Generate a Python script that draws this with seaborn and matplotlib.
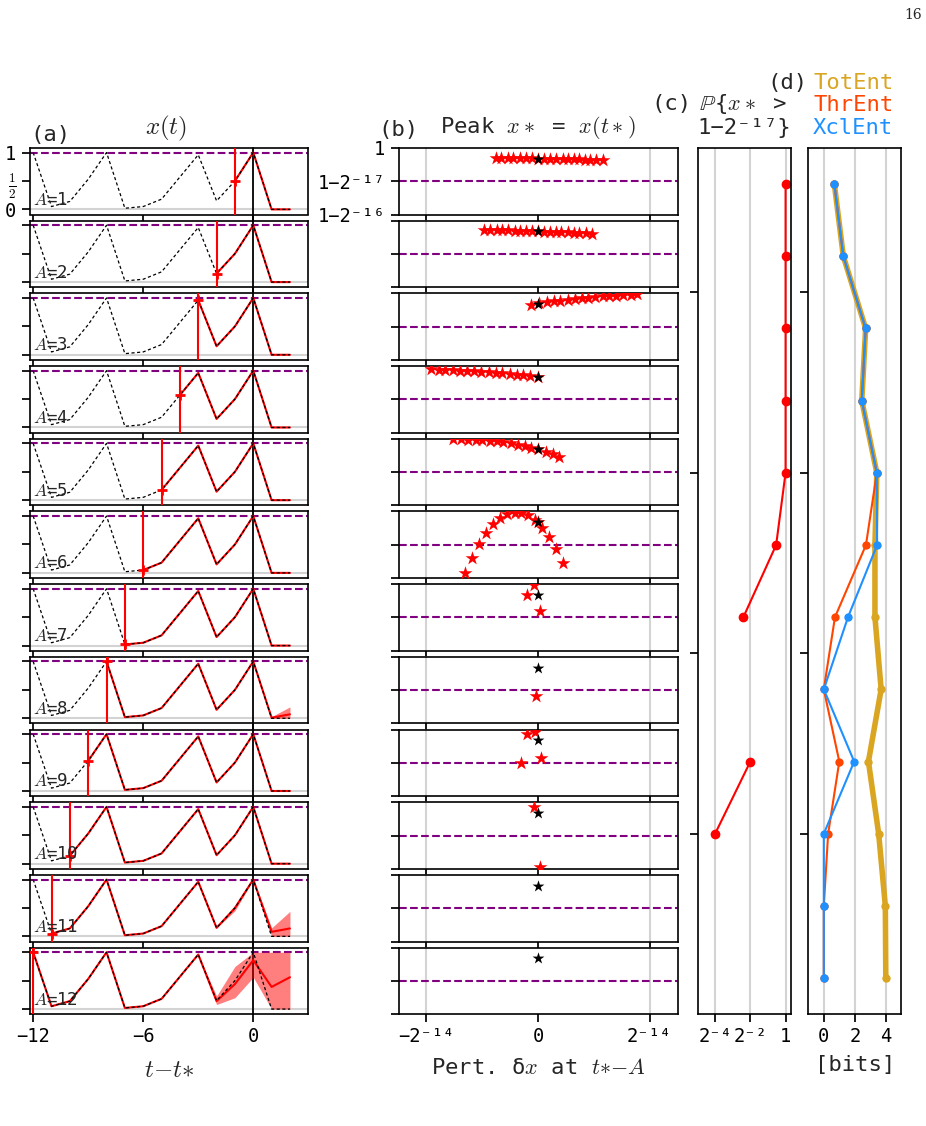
import numpy as np
import seaborn as sns
import matplotlib.pyplot as plt

W, H = 926, 1126

# ---- values ----
lags = np.arange(1, 13)                      # A
t = np.arange(-12, 3)                        # t - t*
x_ref = [1.0, 0.05, 0.14, 0.53, 1.0, 0.02, 0.05, 0.18, 0.57, 0.96, 0.15, 0.5, 1.0, 0.0, 0.0]

# rows where the perturbed ensemble spreads out (t = -3..2)
t_tail = np.arange(-3, 3)
tail_mean = {8: [0.96, 0.15, 0.5, 1.0, 0.01, 0.07],
             11: [0.96, 0.15, 0.5, 1.0, 0.08, 0.14],
             12: [0.96, 0.14, 0.44, 0.86, 0.39, 0.56]}
tail_lo = {8: [0.96, 0.15, 0.5, 1.0, 0.0, 0.0],
           11: [0.96, 0.15, 0.45, 1.0, 0.0, 0.0],
           12: [0.96, 0.08, 0.2, 0.56, 0.0, 0.0]}
tail_hi = {8: [0.96, 0.15, 0.5, 1.0, 0.03, 0.2],
           11: [0.96, 0.15, 0.55, 1.0, 0.15, 0.44],
           12: [0.96, 0.23, 0.75, 1.0, 1.0, 1.0]}

# (b) perturbation dx (units of 2^-14) vs peak deficit 1-x* (units of 2^-17)
peak_ref = 0.32
pert_dx = {
    1: [-0.38, -0.33, -0.27, -0.22, -0.16, -0.11, -0.05, 0.0, 0.05, 0.11, 0.16, 0.22, 0.27, 0.32, 0.37, 0.42, 0.47, 0.52, 0.58],
    2: [-0.48, -0.43, -0.37, -0.32, -0.27, -0.21, -0.16, -0.11, -0.05, 0.0, 0.05, 0.11, 0.16, 0.21, 0.27, 0.32, 0.37, 0.43, 0.48],
    3: [-0.06, 0.01, 0.08, 0.14, 0.20, 0.27, 0.33, 0.39, 0.45, 0.51, 0.58, 0.64, 0.70, 0.76, 0.83, 0.89],
    4: [-0.96, -0.89, -0.83, -0.76, -0.70, -0.64, -0.57, -0.51, -0.44, -0.38, -0.32, -0.25, -0.19, -0.13, -0.07, 0.0],
    5: [-0.76, -0.69, -0.63, -0.56, -0.50, -0.43, -0.37, -0.31, -0.24, -0.18, -0.12, -0.06, 0.0, 0.07, 0.13, 0.19],
    6: [-0.65, -0.59, -0.53, -0.47, -0.40, -0.34, -0.28, -0.21, -0.15, -0.09, -0.03, 0.0, 0.04, 0.10, 0.16, 0.22],
    7: [-0.04, -0.10, 0.02],
    8: [-0.02],
    9: [-0.10, -0.03, 0.03, -0.15],
    10: [-0.04, 0.02],
}
pert_def = {
    1: [0.29, 0.29, 0.30, 0.30, 0.30, 0.31, 0.31, 0.32, 0.32, 0.32, 0.33, 0.33, 0.34, 0.34, 0.34, 0.35, 0.35, 0.36, 0.36],
    2: [0.27, 0.28, 0.28, 0.29, 0.29, 0.30, 0.30, 0.31, 0.31, 0.32, 0.33, 0.33, 0.34, 0.34, 0.35, 0.36, 0.37, 0.38, 0.39],
    3: [0.35, 0.30, 0.27, 0.24, 0.22, 0.19, 0.17, 0.15, 0.13, 0.11, 0.09, 0.08, 0.07, 0.05, 0.04, 0.03],
    4: [0.09, 0.11, 0.12, 0.13, 0.14, 0.15, 0.16, 0.17, 0.19, 0.20, 0.22, 0.24, 0.26, 0.28, 0.30, 0.33],
    5: [0.01, 0.02, 0.03, 0.04, 0.05, 0.06, 0.08, 0.10, 0.14, 0.18, 0.23, 0.28, 0.32, 0.39, 0.46, 0.54],
    6: [1.86, 1.39, 0.99, 0.66, 0.38, 0.20, 0.08, 0.04, 0.04, 0.10, 0.26, 0.33, 0.49, 0.78, 1.13, 1.56],
    7: [0.02, 0.32, 0.81],
    8: [1.18],
    9: [0.12, 0.08, 0.86, 0.99],
    10: [0.14, 1.94],
}

# (c) probability the peak clears the threshold
p_above = [1, 1, 1, 1, 1, 0.69, 0.19, 0, 0.25, 0.0625, 0, 0]

# (d) entropies [bits]
tot_ent = [0.68, 1.26, 2.7, 2.45, 3.42, 3.3, 3.3, 3.7, 2.88, 3.54, 3.97, 4.0]
thr_ent = [0.68, 1.26, 2.7, 2.45, 3.42, 2.72, 0.72, 0.0, 1.0, 0.28, 0.0, 0.0]
xcl_ent = [0.68, 1.26, 2.7, 2.45, 3.42, 3.44, 1.56, 0.0, 1.96, 0.0, 0.0, 0.0]

# ---- style ----
sns.set_theme(context='notebook', style='ticks')
plt.rcParams['font.family'] = ['DejaVu Sans Mono', 'DejaVu Sans']
plt.rcParams['mathtext.fontset'] = 'cm'
plt.rcParams['axes.edgecolor'] = 'black'
plt.rcParams['axes.linewidth'] = 1.2
plt.rcParams['xtick.labelsize'] = 13.5
plt.rcParams['ytick.labelsize'] = 13.5
plt.rcParams['xtick.color'] = 'black'
plt.rcParams['ytick.color'] = 'black'

fig = plt.figure(figsize=(W / 100, H / 100), dpi=100)


def rect(x0, y0, x1, y1):
    return [x0 / W, 1 - y1 / H, (x1 - x0) / W, (y1 - y0) / H]


def ftext(x, y, s, **kw):
    kw.setdefault('va', 'center')
    kw.setdefault('fontsize', 16)
    fig.text(x / W, 1 - y / H, s, **kw)


row_top0, pitch, row_h = 148, 72.7, 66.5
axes_a, axes_b = [], []
for k, A in enumerate(lags):
    top = row_top0 + k * pitch
    last = A == lags[-1]
    ext = 0 if last else -0.1

    # ---- (a) trajectories ----
    ax = fig.add_axes(rect(29.5, top, 308.3, top + row_h))
    axes_a.append(ax)
    ax.axhline(0, color='lightgray', lw=1.5, zorder=0)
    ax.axhline(1, color='purple', ls='--', lw=1.5, zorder=1)
    ax.axvline(0, ymin=ext, ymax=1, color='black', lw=1.3, clip_on=False, zorder=1)

    tr = t[t >= -A]
    mean = np.array(x_ref, float)[t >= -A]
    if A in tail_mean:
        sel = tr >= t_tail[0]
        mean[sel] = tail_mean[A]
        ax.fill_between(t_tail, tail_lo[A], tail_hi[A], color='red', alpha=0.5, lw=0, zorder=2)
    sns.lineplot(x=tr, y=mean, color='red', lw=1.5, estimator=None, ax=ax, zorder=3)
    sns.lineplot(x=t, y=x_ref, color='black', dashes=(2.5, 2), lw=0.9, estimator=None, ax=ax, zorder=4)
    ax.axvline(-A, color='red', lw=1.5, zorder=5)
    ax.plot(-A, x_ref[12 - A], marker='+', color='red', ms=7, mew=2, zorder=6)
    ax.text(0.012, 0.22, f'$A$={A}', transform=ax.transAxes, fontsize=12.5, va='center',
            color='0.15', zorder=7)

    ax.set_xlim(-12.2, 3.0)
    ax.set_ylim(-0.09, 1.08)
    ax.set_xticks([-12, -6, 0])
    ax.set_yticks([0, 0.5, 1])
    if k == 0:
        ax.set_yticklabels(['0', r'$\frac{1}{2}$', '1'])
    else:
        ax.tick_params(labelleft=False)
    if not last:
        ax.tick_params(labelbottom=False)
    ax.set_xlabel('')
    ax.set_ylabel('')

    # ---- (b) peak vs perturbation ----
    bx = fig.add_axes(rect(398.5, top, 677.5, top + row_h))
    axes_b.append(bx)
    for u in (-1, 1):
        bx.axvline(u, ymin=ext, ymax=1, color='lightgray', lw=1.5, clip_on=False, zorder=0)
    bx.axhline(1, color='purple', ls='--', lw=1.5, zorder=1)
    if A in pert_dx:
        sns.scatterplot(x=pert_dx[A], y=pert_def[A], marker='*', s=110, color='red',
                        linewidth=0, ax=bx, zorder=3)
    sns.scatterplot(x=[0], y=[peak_ref], marker='*', s=80, color='black',
                    linewidth=0, ax=bx, zorder=4)
    bx.set_xlim(-1.25, 1.25)
    bx.set_ylim(2, 0)
    bx.set_xticks([-1, 0, 1])
    bx.set_yticks([0, 1, 2])
    if k == 0:
        bx.set_yticklabels(['1', '1−2⁻¹⁷', '1−2⁻¹⁶'])
    else:
        bx.tick_params(labelleft=False)
    if last:
        bx.set_xticklabels(['−2⁻¹⁴', '0', '2⁻¹⁴'])
    else:
        bx.tick_params(labelbottom=False)
    bx.set_xlabel('')
    bx.set_ylabel('')

bottom = row_top0 + 11 * pitch + row_h

# ---- (c) probability ----
cx = fig.add_axes(rect(697.5, row_top0, 790.5, bottom))
p = np.array(p_above, float)
cx.plot(np.where(p > 0, p, np.nan), lags, 'o-', color='red', lw=1.5, ms=6)
cx.set_xscale('log', base=2)
cx.set_xlim(2 ** -5, 2 ** 0.28)
cx.set_xticks([2 ** -4, 2 ** -2, 1])
cx.set_xticklabels(['2⁻⁴', '2⁻²', '1'])
cx.xaxis.set_minor_locator(plt.NullLocator())
cx.grid(axis='x', color='lightgray', lw=1.5)

# ---- (d) entropies ----
dx = fig.add_axes(rect(808.3, row_top0, 901.3, bottom))
for vals, col, lw in [(tot_ent, 'goldenrod', 4), (thr_ent, 'orangered', 1.5), (xcl_ent, 'dodgerblue', 1.5)]:
    sns.lineplot(x=np.array(vals), y=lags, sort=False, estimator=None, color=col, lw=lw,
                 marker='o', markersize=6, markeredgecolor=col, markeredgewidth=0, ax=dx)
dx.set_xlim(-1, 5)
dx.set_xticks([0, 2, 4])
dx.grid(axis='x', color='lightgray', lw=1.5)
dx.set_xlabel('[bits]', fontsize=16, labelpad=6)

for a in (cx, dx):
    a.set_ylim(12.5, 0.5)
    a.set_yticks([2.5, 5, 7.5, 10])
    a.tick_params(labelleft=False)
    a.set_ylabel('')
    a.set_axisbelow(True)

axes_a[-1].set_xlabel(r'$t{-}t{\ast}$', fontsize=18, labelpad=8)
axes_b[-1].set_xlabel(r'Pert. δ$x$ at $t{\ast}{-}A$', fontsize=16, labelpad=8)

# ---- titles ----
ftext(30, 135, '(a)')
ftext(166, 128, r'$x(t)$', ha='center', fontsize=18)
ftext(378, 130, '(b)')
ftext(538, 128, r'Peak $x\ast$ = $x(t\ast)$', ha='center')
ftext(692, 104, '(c)', ha='right')
ftext(744, 104, r'$\mathbb{P}${$x\ast$ > ', ha='center')
ftext(744, 128, '1−2⁻¹⁷}', ha='center')
ftext(808, 83, '(d)', ha='right')
ftext(813, 83, 'TotEnt', color='goldenrod')
ftext(813, 105, 'ThrEnt', color='orangered')
ftext(813, 128, 'XclEnt', color='dodgerblue')
ftext(913, 15, '16', ha='center', fontsize=10, family='DejaVu Serif')

fig.savefig('out.png', dpi=100)
